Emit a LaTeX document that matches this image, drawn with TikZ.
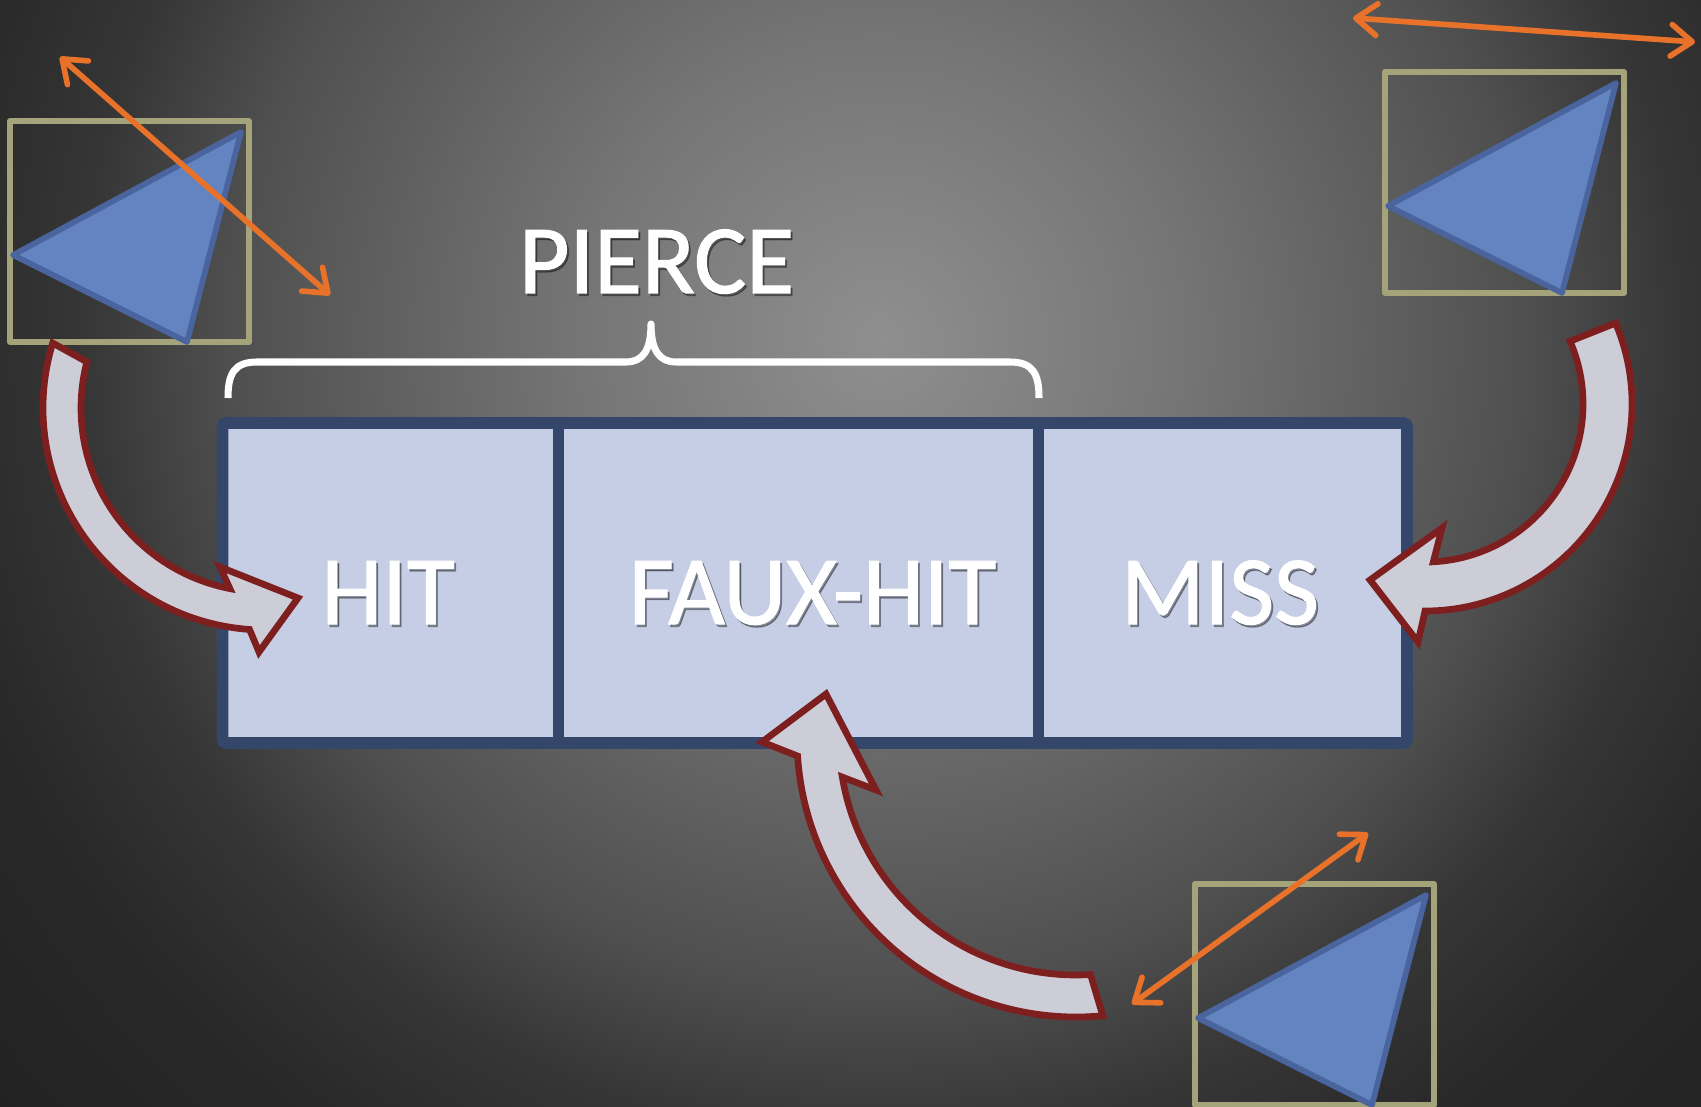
\documentclass[tikz,border=0pt]{standalone}
\usepackage{fontspec}
\setmainfont{Carlito}
\newfontfamily\labelfont[FakeBold=1.2]{Carlito}
\usetikzlibrary{arrows.meta}

% soft spotlight behind the whole slide
\pgfdeclareradialshading{stagelight}{\pgfpoint{0bp}{0bp}}{%
  rgb(0bp)=(0.56,0.56,0.56);
  rgb(6bp)=(0.46,0.46,0.46);
  rgb(13bp)=(0.31,0.31,0.31);
  rgb(16bp)=(0.21,0.21,0.21);
  rgb(19bp)=(0.16,0.16,0.16);
  rgb(24bp)=(0.13,0.13,0.13);
  rgb(50bp)=(0.13,0.13,0.13)}

\definecolor{cellfill}{HTML}{C6CEE6}
\definecolor{cellline}{HTML}{34476B}
\definecolor{bendfill}{HTML}{CDCDD8}
\definecolor{bendline}{HTML}{7E1F1F}
\definecolor{rayorange}{HTML}{E8722A}
\definecolor{framekhaki}{HTML}{A5A37A}
\definecolor{prismblue}{HTML}{6383C1}
\definecolor{prismline}{HTML}{4A649E}

\tikzset{
  bendarrow/.style={fill=bendfill, draw=bendline, line width=1.9pt, line join=miter, miter limit=6},
  raytip/.tip={Straight Barb[length=6pt, width=9pt, line cap=round, line join=round]},
  rayline/.style={draw=rayorange, line width=1.6pt, line cap=round, raytip-raytip},
  table/.style={draw=cellline, fill=cellfill, line width=3.3pt, rounded corners=1pt},
  divider/.style={draw=cellline, line width=3.2pt},
  word/.style={text=white, font=\labelfont\fontsize{27.8}{33}\selectfont, inner sep=0pt, anchor=base},
  wordshadow/.style={word, text=black, opacity=0.35},
  bracket/.style={draw=white, line width=2pt, line join=round},
  sample/.pic={
    \draw[draw=framekhaki, line width=1.7pt, line join=round] (0,0) rectangle (239,221);
    \draw[draw=prismline, fill=prismblue, line width=1.6pt, line join=round]
      (3,134) -- (231,11) -- (177,221) -- cycle;
  }
}

\begin{document}
\begin{tikzpicture}[x=0.01cm, y=-0.01cm]
  \useasboundingbox (0,0) rectangle (1701,1107);

  % background
  \begin{scope}
    \clip (0,0) rectangle (1701,1107);
    \shade[shading=stagelight] (880,340) circle (1250);
  \end{scope}

  % the three sampled triangles with their bounding squares
  \pic (sampleA) at (10,121) {sample};
  \pic (sampleB) at (1385,72) {sample};
  \pic (sampleC) at (1195,884) {sample};

  % three-way table
  \draw[table] (222.5,423) rectangle (1407,743);
  \draw[divider] (558.5,423) -- (558.5,743);
  \draw[divider] (1038.5,423) -- (1038.5,743);

  % brace over the first two cells
  \draw[bracket] (228,398) .. controls (228,374) and (234,362) .. (257,362)
    -- (626,362) .. controls (643,362) and (651,350) .. (651,324)
    .. controls (651,350) and (659,362) .. (676,362)
    -- (1010,362) .. controls (1033,362) and (1039,374) .. (1039,398);

  % labels
  \node[wordshadow] (pierceS) at (658.5,295.5) {PIERCE};
  \node[word] (pierce) at (656.5,293) {PIERCE};
  \node[wordshadow] (hitS) at (390,626.5) {HIT};
  \node[word] (hit) at (388,624) {HIT};
  \node[wordshadow] (fauxS) at (814.5,626.5) {FAUX-HIT};
  \node[word] (faux) at (812.5,624) {FAUX-HIT};
  \node[wordshadow] (missS) at (1222,626.5) {MISS};
  \node[word] (miss) at (1220,624) {MISS};

  % curved block arrows
  \draw[bendarrow] (265,408) ++(197:222) arc[start angle=197, end angle=94, radius=222]
    -- (259,652) -- (298,598) -- (220,567) -- (229.9,588.6)
    arc[start angle=101, end angle=194.5, radius=184] -- cycle;

  \draw[bendarrow] (1425,404) ++(-23:207) arc[start angle=-23, end angle=90, radius=207]
    -- (1418,642) -- (1370,580) -- (1442,528) -- (1433.3,561.8)
    arc[start angle=87, end angle=-23.4, radius=158] -- cycle;

  \draw[bendarrow] (1076,738) ++(84.5:279) arc[start angle=84.5, end angle=176.3, radius=279]
    -- (762,742) -- (826,694) -- (876,790) -- (842.3,777.1)
    arc[start angle=170.5, end angle=86.5, radius=237] -- cycle;

  % double-headed orange rays
  \coordinate (rayA1) at (60,57);
  \coordinate (rayA2) at (330,295);
  \coordinate (rayB1) at (1353,18);
  \coordinate (rayB2) at (1695,42);
  \coordinate (rayC1) at (1132,1004);
  \coordinate (rayC2) at (1368,833);
  \draw[rayline] (rayA1) -- (rayA2);
  \draw[rayline] (rayB1) -- (rayB2);
  \draw[rayline] (rayC1) -- (rayC2);
\end{tikzpicture}
\end{document}
